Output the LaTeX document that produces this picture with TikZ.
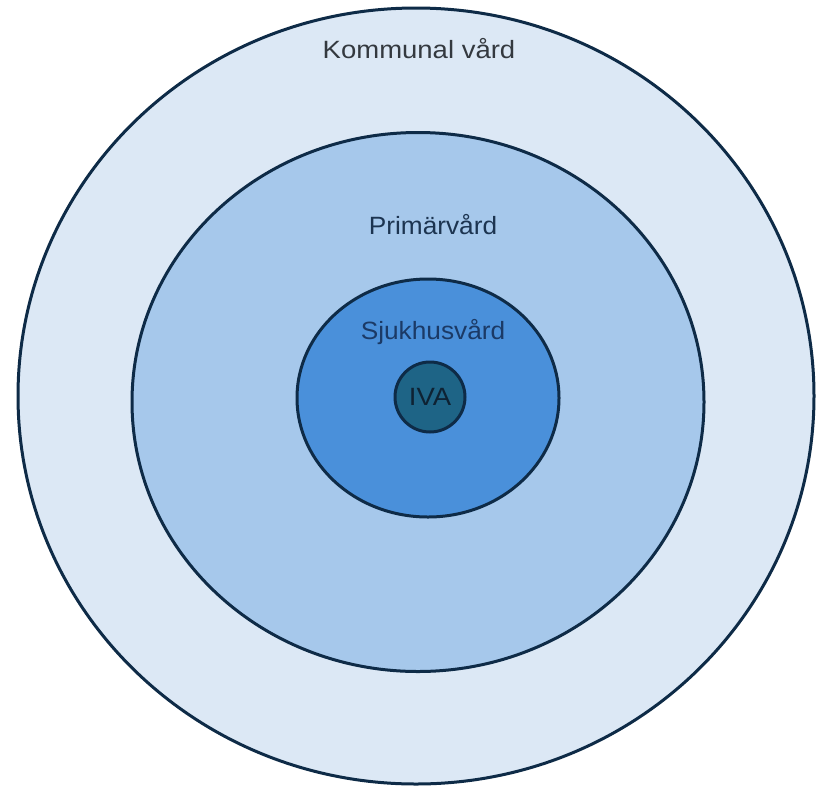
\documentclass[tikz,border=0pt]{standalone}
\usepackage{fontspec}
\setmainfont{Liberation Sans}
\usepackage{tikz}
\usetikzlibrary{shapes.geometric}
\definecolor{edge}{HTML}{0E2B47}
\definecolor{komfill}{HTML}{DCE8F5}
\definecolor{primfill}{HTML}{A6C8EB}
\definecolor{sjukfill}{HTML}{4A90DA}
\definecolor{ivafill}{HTML}{1E6486}
\definecolor{komtext}{HTML}{34393F}
\definecolor{primtext}{HTML}{1C3450}
\definecolor{sjuktext}{HTML}{1B3A66}
\definecolor{ivatext}{HTML}{0E2233}
\tikzset{ring/.style={ellipse,draw=edge,line width=3pt,inner sep=0pt},lbl/.style={inner sep=1pt,font=\fontsize{25}{30}\selectfont}}

\begin{document}
\begin{tikzpicture}[x=1pt,y=-1pt]
\useasboundingbox (0,0) rectangle (819,788);
\node[ring,fill=komfill,minimum width=796pt,minimum height=776pt] (kom) at (416,396) {};
\node[ring,fill=primfill,minimum width=572pt,minimum height=539pt] (prim) at (418,402) {};
\node[ring,fill=sjukfill,minimum width=262pt,minimum height=238pt] (sjuk) at (428,398) {};
\node[ring,circle,fill=ivafill,minimum size=70pt] (iva) at (430,397) {};
\node[lbl,text=komtext,xscale=1.1] (tkom) at (419,49) {Kommunal vård};
\node[lbl,text=primtext,xscale=1.05] (tprim) at (433,225) {Primärvård};
\node[lbl,text=sjuktext,xscale=1.05] (tsjuk) at (433,332) {Sjukhusvård};
\node[lbl,text=ivatext,font=\fontsize{25}{30}\selectfont,xscale=1.1] (tiva) at (iva) {IVA};
\end{tikzpicture}
\end{document}
